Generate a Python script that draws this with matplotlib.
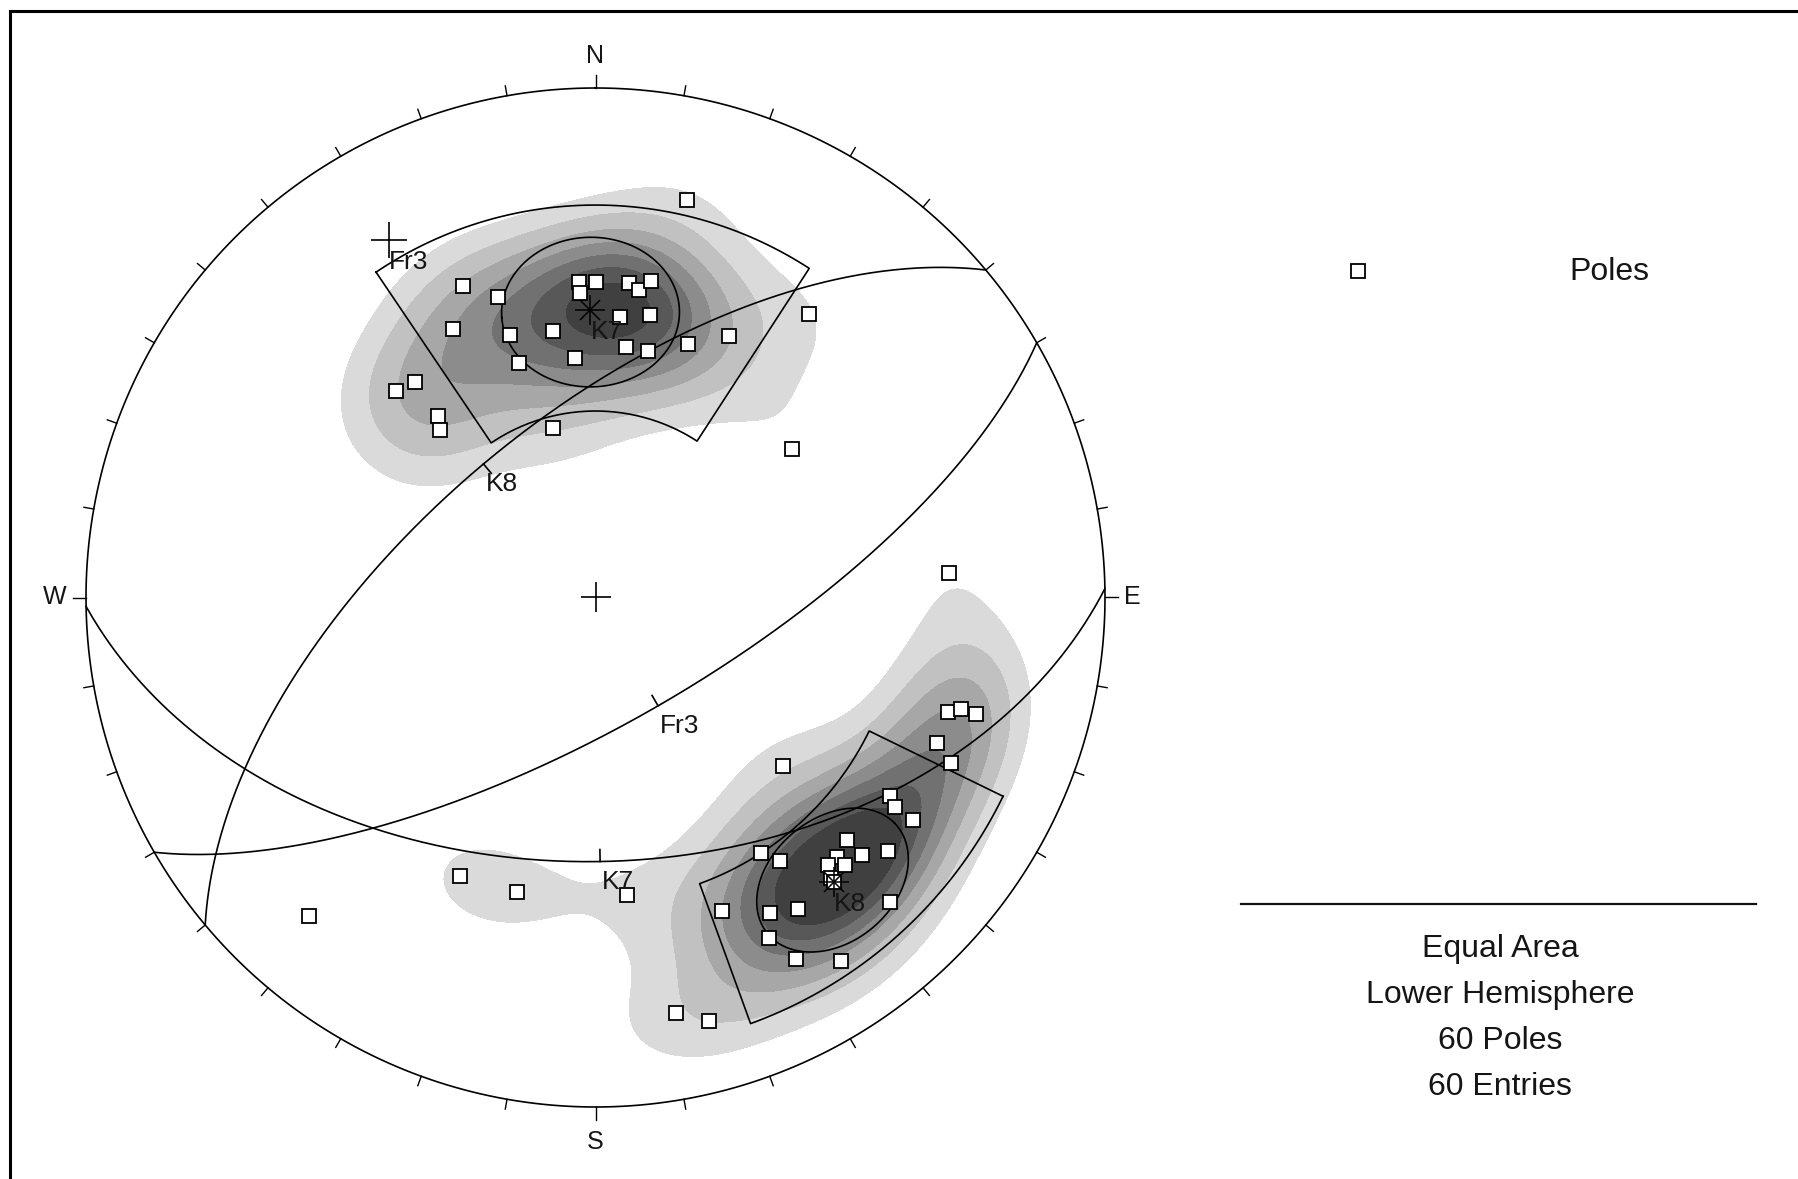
import numpy as np
import matplotlib
matplotlib.use("Agg")
import matplotlib.pyplot as plt
from matplotlib.lines import Line2D

# Pole measurements (trend / plunge in degrees)
pole_trend = [13, 337, 342, 357, 357, 0, 6, 8, 10, 332, 342, 351, 5, 11, 20,
              27, 37, 342, 355, 7, 12, 320, 316, 319, 317, 346, 53,
              108, 107, 107, 113, 115, 132, 124, 125, 125, 134, 137, 134, 137,
              139, 131, 147, 145, 140, 136, 158, 151, 147, 153, 151, 146, 169,
              165, 140, 86, 206, 195, 174, 222]
pole_plunge = [21, 34, 38, 38, 40, 38, 38, 39, 37, 40, 45, 46, 44, 43, 46,
               42, 31, 50, 51, 49, 49, 44, 43, 51, 53, 62, 50,
               28, 26, 23, 28, 24, 49, 31, 29, 25, 32, 31, 28, 29,
               31, 25, 40, 37, 29, 18, 34, 30, 28, 26, 20, 15, 18,
               15, 28, 31, 39, 40, 41, 17]

# Planes (dip direction / dip)
plane_names = ["Fr3", "K7", "K8"]
plane_dipdir = [150, 179, 320]
plane_dip = [70, 47, 62]

# Joint sets: mean plane name and confidence cone half-angle
set_names = ["K7", "K8"]
set_cone = [13.0, 11.5]

# Set windows: trend range and plunge range
window_trend_from = [326, 116]
window_trend_to = [33, 160]
window_plunge_min = [24, 12]
window_plunge_max = [60, 40]

legend_label = "Poles"
info_lines = ["Equal Area", "Lower Hemisphere",
              f"{len(pole_trend)} Poles", f"{len(pole_trend)} Entries"]

# Contouring (Fisher kernel, multiples of uniform density)
kappa = 44.0
density_levels = [1.07, 1.95, 2.9, 3.85, 4.8, 5.75, 6.7, 1e9]
density_colors = ["#dadada", "#c1c1c1", "#a7a7a7", "#8c8c8c",
                  "#717171", "#585858", "#404040"]

# ---------------------------------------------------------------------------
W, H, DPI = 1798, 1179, 100
CX, CY, RPX = 595.5, 597.5, 509.5   # net centre and radius in pixels
SQ2 = np.sqrt(2.0)

TXT = "#151515"
FONT = ["Liberation Sans", "DejaVu Sans"]
NARROW = ["Liberation Sans Narrow", "Liberation Sans", "DejaVu Sans"]
LW = 1.2


def tp_to_vec(trend, plunge):
    t, p = np.radians(trend), np.radians(plunge)
    return np.array([np.cos(p) * np.cos(t), np.cos(p) * np.sin(t), np.sin(p)])


def vec_to_xy(v):
    v = np.asarray(v, dtype=float)
    n, e, d = v
    flip = d < 0
    n, e, d = np.where(flip, -n, n), np.where(flip, -e, e), np.where(flip, -d, d)
    plunge = np.arcsin(np.clip(d, -1, 1))
    trend = np.arctan2(e, n)
    r = SQ2 * np.sin((np.pi / 2 - plunge) / 2)
    return r * np.sin(trend), r * np.cos(trend)


def project(trend, plunge):
    return vec_to_xy(tp_to_vec(np.asarray(trend, float), np.asarray(plunge, float)))


def px(x, y):
    """Figure pixel position -> net units."""
    return (x - CX) / RPX, (CY - y) / RPX


fig = plt.figure(figsize=(W / DPI, H / DPI), dpi=DPI)
ax = fig.add_axes([0, 0, 1, 1])
ax.set_xlim(-CX / RPX, (W - CX) / RPX)
ax.set_ylim((CY - H) / RPX, CY / RPX)
ax.set_aspect("equal")
ax.axis("off")

# --- density contours -----------------------------------------------------
g = np.linspace(-1, 1, 501)
GX, GY = np.meshgrid(g, g)
GR = np.hypot(GX, GY)
inside = GR <= 1.0
theta = 2 * np.arcsin(np.clip(GR / SQ2, 0, 1))
gpl = np.pi / 2 - theta
gtr = np.arctan2(GX, GY)
gv = np.stack([np.cos(gpl) * np.cos(gtr), np.cos(gpl) * np.sin(gtr), np.sin(gpl)], axis=-1)
pv = np.array([tp_to_vec(t, p) for t, p in zip(pole_trend, pole_plunge)])
cosang = np.abs(gv @ pv.T)
dens = kappa / len(pv) * np.exp(kappa * (cosang - 1)).sum(axis=-1)
dens = np.where(inside, dens, np.nan)
ax.contourf(GX, GY, dens, levels=density_levels, colors=density_colors, zorder=1)

# --- primitive circle and ticks -------------------------------------------
phi = np.linspace(0, 2 * np.pi, 721)
ax.plot(np.sin(phi), np.cos(phi), color="black", lw=LW, zorder=6)
for az in range(0, 360, 10):
    a = np.radians(az)
    L = 13 / RPX if az % 90 == 0 else 10 / RPX
    ax.plot([np.sin(a), (1 + L) * np.sin(a)], [np.cos(a), (1 + L) * np.cos(a)],
            color="black", lw=1.0, zorder=6)
for lab, (x, y, ha, va) in {"N": (0, 1.04, "center", "bottom"),
                            "S": (0, -1.045, "center", "top"),
                            "E": (1.038, 0, "left", "center"),
                            "W": (-1.038, 0, "right", "center")}.items():
    ax.text(x, y, lab, ha=ha, va=va, fontsize=18, color=TXT, family=NARROW)

# centre cross
ax.plot(0, 0, marker="+", ms=22, mew=1.2, color="black", zorder=7)

# --- set windows ------------------------------------------------------------
for t0, t1, p0, p1 in zip(window_trend_from, window_trend_to,
                          window_plunge_min, window_plunge_max):
    t1u = t1 if t1 > t0 else t1 + 360
    ts = np.linspace(t0, t1u, 120)
    xo, yo = project(ts, np.full_like(ts, p0))
    xi, yi = project(ts[::-1], np.full_like(ts, p1))
    xs = np.concatenate([xo, xi, xo[:1]])
    ys = np.concatenate([yo, yi, yo[:1]])
    ax.plot(xs, ys, color="black", lw=LW, zorder=4)

# --- great circles ------------------------------------------------------------
for name, dd, dip in zip(plane_names, plane_dipdir, plane_dip):
    s = tp_to_vec(dd - 90, 0)
    dv = tp_to_vec(dd, dip)
    t = np.radians(np.linspace(0, 180, 361))
    v = np.outer(np.cos(t), s) + np.outer(np.sin(t), dv)
    x, y = vec_to_xy(v.T)
    ax.plot(x, y, color="black", lw=LW, zorder=4)
    mx, my = project(dd, dip)
    rr = np.hypot(mx, my)
    L = 12 / RPX
    ax.plot([mx, mx - L * mx / rr], [my, my - L * my / rr], color="black", lw=LW, zorder=4)
    ax.text(mx + 2 / RPX, my - 8 / RPX, name, ha="left", va="top",
            fontsize=19, color=TXT, family=FONT, zorder=8)

# --- poles of planes ------------------------------------------------------------
for name, dd, dip in zip(plane_names, plane_dipdir, plane_dip):
    ptr, ppl = (dd + 180) % 360, 90 - dip
    x, y = project(ptr, ppl)
    if name in set_names:
        ax.plot(x, y, marker="+", ms=22, mew=1.1, color="black", zorder=7)
        ax.plot(x, y, marker="x", ms=15, mew=1.1, color="black", zorder=7)
        # confidence cone
        alpha = np.radians(set_cone[set_names.index(name)])
        a = tp_to_vec(ptr, ppl)
        b = np.cross(a, [0, 0, 1.0]); b /= np.linalg.norm(b)
        c = np.cross(a, b)
        ph = np.linspace(0, 2 * np.pi, 361)
        v = (np.cos(alpha) * a[:, None]
             + np.sin(alpha) * (np.outer(b, np.cos(ph)) + np.outer(c, np.sin(ph))))
        cxs, cys = vec_to_xy(v)
        ax.plot(cxs, cys, color="black", lw=LW, zorder=4)
    else:
        ax.plot(x, y, marker="+", ms=26, mew=1.2, color="black", zorder=7)
    ax.text(x, y - 10 / RPX, name, ha="left", va="top",
            fontsize=19, color=TXT, family=FONT, zorder=8)

# --- poles ------------------------------------------------------------------
px_, py_ = project(pole_trend, pole_plunge)
ax.plot(px_, py_, ls="none", marker="s", ms=9.5, mfc="white", mec="black",
        mew=1.3, zorder=5)

# --- legend / info --------------------------------------------------------
lx, ly = px(1357.7, 270.6)
ax.plot(lx, ly, ls="none", marker="s", ms=9.5, mfc="white", mec="black", mew=1.3)
tx, ty = px(1609, 272)
ax.text(tx, ty, legend_label, ha="center", va="center", fontsize=23,
        color=TXT, family=FONT)
x0, y0 = px(1241, 903.5)
x1, _ = px(1756, 903.5)
ax.plot([x0, x1], [y0, y0], color="#111111", lw=1.6)
for i, line in enumerate(info_lines):
    tx, ty = px(1500, 949 + 46 * i)
    ax.text(tx, ty, line, ha="center", va="center", fontsize=23,
            color=TXT, family=FONT)

# frame (top and left edges)
fig.add_artist(Line2D([9.5 / W, 1.0], [1 - 11 / H, 1 - 11 / H],
                      transform=fig.transFigure, color="black", lw=2.2))
fig.add_artist(Line2D([9.5 / W, 9.5 / W], [0, 1 - 11 / H],
                      transform=fig.transFigure, color="black", lw=2.2))

fig.savefig("out.png", dpi=DPI, facecolor="white")
